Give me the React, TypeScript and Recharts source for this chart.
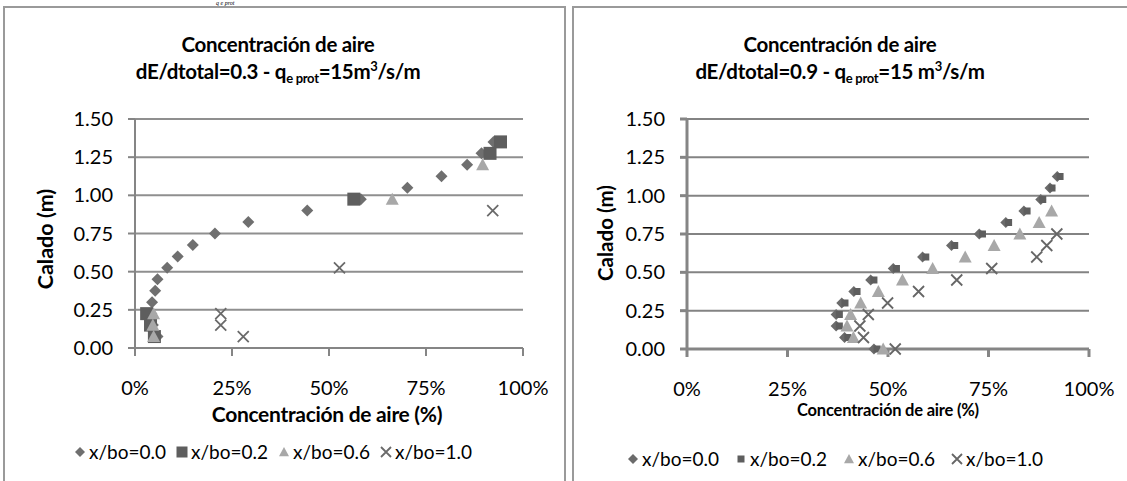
import { ScatterChart, Scatter, XAxis, YAxis, CartesianGrid, Legend } from 'recharts';

const FONT = 'Lato, "Open Sans", sans-serif';

// --- left chart: dE/dtotal = 0.3 ---
const leftDepth00 = [0.075, 0.15, 0.225, 0.3, 0.375, 0.45, 0.525, 0.6, 0.675, 0.75, 0.825, 0.9, 0.975, 1.05, 1.125, 1.2, 1.275, 1.35];
const leftConc00 = [5.8, 4.6, 4.2, 4.4, 5.2, 5.8, 8.3, 11.0, 14.9, 20.6, 29.2, 44.4, 58.2, 70.2, 79.0, 85.6, 89.3, 92.4];
const leftDepth02 = [0.075, 0.15, 0.225, 0.975, 1.275, 1.35];
const leftConc02 = [5.0, 4.0, 3.0, 56.4, 91.5, 94.2];
const leftDepth06 = [0.075, 0.15, 0.225, 0.975, 1.2];
const leftConc06 = [4.8, 4.6, 4.8, 66.3, 89.6];
const leftDepth10 = [0.075, 0.15, 0.225, 0.525, 0.9];
const leftConc10 = [27.9, 22.1, 22.1, 52.7, 92.2];

// --- right chart: dE/dtotal = 0.9 ---
const rightDepth = [0, 0.075, 0.15, 0.225, 0.3, 0.375, 0.45, 0.525, 0.6, 0.675, 0.75, 0.825, 0.9, 0.975, 1.05, 1.125];
const rightConc00 = [46.5, 39.2, 37.1, 37.1, 38.5, 41.5, 45.7, 51.3, 58.6, 65.8, 72.7, 79.3, 83.8, 88.0, 90.3, 92.1];
const rightConc02 = [47.3, 40.0, 37.9, 37.9, 39.3, 42.3, 46.5, 52.1, 59.4, 66.6, 73.5, 80.0, 84.6, 88.5, 90.8, 92.8];
const rightConc06 = [48.8, 41.4, 39.8, 40.7, 43.2, 47.6, 53.6, 61.1, 69.2, 76.4, 82.8, 87.6, 90.7];
const rightConc10 = [51.8, 43.9, 43.0, 45.1, 49.9, 57.6, 67.1, 75.8, 87.0, 89.5, 92.0];

const xTicks = [0, 25, 50, 75, 100];
const yTicks = [0, 0.25, 0.5, 0.75, 1, 1.25, 1.5];
const seriesNames = ['x/bo=0.0', 'x/bo=0.2', 'x/bo=0.6', 'x/bo=1.0'];

type Kind = 'diamond' | 'square' | 'triangle' | 'cross';

const pts = (xs: number[], ys: number[]) => xs.map((x, i) => ({ x, y: ys[i] }));

function Marker({ kind, cx, cy, size, color }: { kind: Kind; cx: number; cy: number; size: number; color: string }) {
  const h = size / 2;
  if (kind === 'diamond')
    return <path d={`M${cx},${cy - h}L${cx + h},${cy}L${cx},${cy + h}L${cx - h},${cy}Z`} fill={color} />;
  if (kind === 'square') return <rect x={cx - h} y={cy - h} width={size} height={size} fill={color} />;
  if (kind === 'triangle')
    return <path d={`M${cx},${cy - h}L${cx + h},${cy + h * 0.85}L${cx - h},${cy + h * 0.85}Z`} fill={color} />;
  return (
    <path
      d={`M${cx - h},${cy - h}L${cx + h},${cy + h}M${cx + h},${cy - h}L${cx - h},${cy + h}`}
      stroke={color}
      strokeWidth={1.8}
      fill="none"
    />
  );
}

const shape = (kind: Kind, size: number, color: string) => (p: any) =>
  <Marker kind={kind} cx={p.cx} cy={p.cy} size={size} color={color} />;

interface SeriesStyle { kind: Kind; color: string; size: number; legendSize: number }

const leftStyles: SeriesStyle[] = [
  { kind: 'diamond', color: '#6f6f6f', size: 12, legendSize: 10 },
  { kind: 'square', color: '#5e5e5e', size: 13, legendSize: 11 },
  { kind: 'triangle', color: '#a8a8a8', size: 13, legendSize: 10 },
  { kind: 'cross', color: '#6a6a6a', size: 11, legendSize: 10 },
];
const rightStyles: SeriesStyle[] = [
  { kind: 'diamond', color: '#6b6b6b', size: 11, legendSize: 10 },
  { kind: 'square', color: '#5e5e5e', size: 7, legendSize: 7 },
  { kind: 'triangle', color: '#a8a8a8', size: 13, legendSize: 10 },
  { kind: 'cross', color: '#666666', size: 11, legendSize: 10 },
];

function LegendRow({ styles, gap }: { styles: SeriesStyle[]; gap: number }) {
  return (
    <div style={{ display: 'flex', justifyContent: 'center', gap, fontFamily: FONT, fontSize: 19, color: '#000' }}>
      {seriesNames.map((name, i) => (
        <div key={name} style={{ display: 'flex', alignItems: 'center', gap: 3 }}>
          <svg width={12} height={12}>
            <Marker kind={styles[i].kind} cx={6} cy={6} size={styles[i].legendSize} color={styles[i].color} />
          </svg>
          <span>{name}</span>
        </div>
      ))}
    </div>
  );
}

const tickStyle = { fontSize: 20, fill: '#000', fontFamily: FONT };

function Panel({
  left, width, margin, data, styles, gridStroke, axisWidth, legendTop, legendLeft, legendGap,
}: {
  left: number; width: number; margin: any; data: { x: number; y: number }[][]; styles: SeriesStyle[];
  gridStroke: string; axisWidth: number; legendTop: number; legendLeft: number; legendGap: number;
}) {
  return (
    <div style={{ position: 'absolute', left, top: 0 }}>
      <ScatterChart width={width} height={481} margin={margin}>
        <CartesianGrid vertical={false} stroke={gridStroke} strokeWidth={2} />
        <XAxis
          type="number" dataKey="x" domain={[0, 100]} ticks={xTicks} tickFormatter={(v) => `${v}%`}
          height={50} tick={tickStyle} tickSize={8} tickMargin={25}
          axisLine={{ stroke: '#858585', strokeWidth: axisWidth }} tickLine={{ stroke: '#858585', strokeWidth: axisWidth }}
        />
        <YAxis
          type="number" dataKey="y" domain={[0, 1.5]} ticks={yTicks} tickFormatter={(v) => v.toFixed(2)}
          width={60} tick={tickStyle} tickSize={7} tickMargin={15}
          axisLine={{ stroke: '#858585', strokeWidth: axisWidth }} tickLine={{ stroke: '#858585', strokeWidth: axisWidth }}
        />
        <Legend
          layout="horizontal" verticalAlign="middle" align="center"
          wrapperStyle={{ top: legendTop, left: legendLeft, width: 450, height: 26 }}
          content={() => <LegendRow styles={styles} gap={legendGap} />}
        />
        {data.map((d, i) => (
          <Scatter
            key={seriesNames[i]} name={seriesNames[i]} data={d} isAnimationActive={false}
            shape={shape(styles[i].kind, styles[i].size, styles[i].color)}
          />
        ))}
      </ScatterChart>
    </div>
  );
}

const abs = (s: any) => ({ position: 'absolute' as const, fontFamily: FONT, color: '#000', whiteSpace: 'nowrap' as const, ...s });

function Title({ cx, value, qSpace }: { cx: number; value: string; qSpace: string }) {
  const small = { fontSize: 13, position: 'relative' as const, verticalAlign: 'baseline' };
  return (
    <div style={abs({ left: cx - 200, top: 31, width: 400, textAlign: 'center', fontWeight: 700, fontSize: 20.5, lineHeight: '27px', letterSpacing: -0.3 })}>
      <div>Concentración de aire</div>
      <div>
        dE/dtotal={value} - q<span style={{ ...small, top: 4 }}>e prot</span>=15{qSpace}m
        <span style={{ ...small, top: -8 }}>3</span>/s/m
      </div>
    </div>
  );
}

export default function App() {
  const leftData = [
    pts(leftConc00, leftDepth00),
    pts(leftConc02, leftDepth02),
    pts(leftConc06, leftDepth06),
    pts(leftConc10, leftDepth10),
  ];
  const rightData = [
    pts(rightConc00, rightDepth),
    pts(rightConc02, rightDepth),
    pts(rightConc06, rightDepth.slice(0, rightConc06.length)),
    pts(rightConc10, rightDepth.slice(0, rightConc10.length)),
  ];
  return (
    <div style={{ position: 'fixed', left: 0, top: 0, width: 1127, height: 481, background: '#fff', overflow: 'hidden' }}>
      <div style={abs({ left: 216, top: 0, fontFamily: '"Liberation Serif", serif', fontStyle: 'italic', fontSize: 6, lineHeight: '6px' })}>
        q e prot
      </div>
      <div style={{ position: 'absolute', left: 3, top: 6, width: 559, height: 490, border: '2px solid #9a9a9a' }} />
      <div style={{ position: 'absolute', left: 572, top: 6, width: 570, height: 490, border: '2px solid #9a9a9a' }} />

      <Title cx={278} value="0.3" qSpace="" />
      <Title cx={840} value="0.9" qSpace=" " />

      <Panel
        left={0} width={565} margin={{ top: 119, right: 42, left: 75, bottom: 83 }}
        data={leftData} styles={leftStyles} gridStroke="#8f8f8f" axisWidth={2}
        legendTop={440} legendLeft={48} legendGap={10}
      />
      <Panel
        left={566} width={561} margin={{ top: 119, right: 38, left: 61, bottom: 82 }}
        data={rightData} styles={rightStyles} gridStroke="#838383" axisWidth={3}
        legendTop={447} legendLeft={44} legendGap={16}
      />

      <div style={abs({ left: 327 - 200, top: 401, width: 400, textAlign: 'center', fontWeight: 700, fontSize: 21, letterSpacing: -0.3 })}>
        Concentración de aire (%)
      </div>
      <div style={abs({ left: 888 - 200, top: 400, width: 400, textAlign: 'center', fontWeight: 700, fontSize: 16.5, letterSpacing: -0.2 })}>
        Concentración de aire (%)
      </div>
      <div style={abs({ left: 45 - 80, top: 240 - 14, width: 160, textAlign: 'center', fontWeight: 700, fontSize: 21.5, transform: 'rotate(-90deg)' })}>
        Calado (m)
      </div>
      <div style={abs({ left: 605 - 80, top: 235 - 14, width: 160, textAlign: 'center', fontWeight: 700, fontSize: 20.5, transform: 'rotate(-90deg)' })}>
        Calado (m)
      </div>
    </div>
  );
}
